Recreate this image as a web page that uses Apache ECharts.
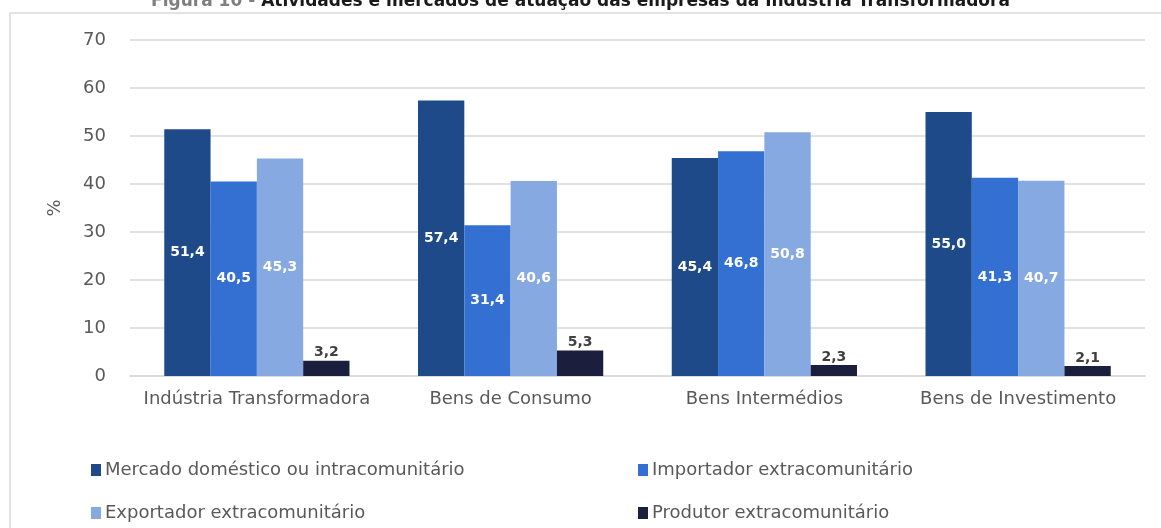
<!DOCTYPE html>
<html>
<head>
<meta charset="utf-8">
<title>Figura 10</title>
<script src="https://cdn.jsdelivr.net/npm/echarts@6/dist/echarts.min.js"></script>
<style>
  html, body { margin: 0; padding: 0; background: #fff; }
  #chart { width: 1161px; height: 528px; }
</style>
</head>
<body>
<div id="chart"></div>
<script>
// categorias e valores (%)
var categorias = ['Indústria Transformadora', 'Bens de Consumo', 'Bens Intermédios', 'Bens de Investimento'];
var seriesNomes = ['Mercado doméstico ou intracomunitário', 'Importador extracomunitário',
                   'Exportador extracomunitário', 'Produtor extracomunitário'];
var mercadoDomestico = [51.4, 57.4, 45.4, 55.0];
var importador = [40.5, 31.4, 46.8, 41.3];
var exportador = [45.3, 40.6, 50.8, 40.7];
var produtor = [3.2, 5.3, 2.3, 2.1];
var cores = ['#1F4A89', '#3370D1', '#86A9E1', '#1C1E3E'];

var fonte = '"DejaVu Sans", sans-serif';
var fmt = function (p) { return p.value.toFixed(1).replace('.', ','); };

function serie(i, dados, dentro) {
    return {
        name: seriesNomes[i],
        type: 'bar',
        data: dados,
        barGap: '0%',
        barCategoryGap: '27%',
        itemStyle: { color: cores[i] },
        label: {
            show: true,
            position: dentro ? 'inside' : 'top',
            distance: 1,
            formatter: fmt,
            color: dentro ? '#ffffff' : '#404040',
            fontWeight: 'bold',
            fontSize: 14,
            fontFamily: fonte
        }
    };
}

function legenda(i, x, y) {
    return {
        left: x, top: y,
        data: [seriesNomes[i]],
        itemWidth: 10, itemHeight: 12, itemGap: 0,
        icon: 'rect',
        textStyle: { color: '#595959', fontSize: 18, fontFamily: fonte, padding: [0, 0, 0, -1] }
    };
}

var chart = echarts.init(document.getElementById('chart'));
chart.setOption({
    animation: false,
    title: {
        text: '{a|Figura 10 - }{b|Atividades e mercados de atuação das empresas da Indústria Transformadora}',
        left: 'center', top: -12,
        textStyle: {
            rich: {
                a: { fontSize: 17, color: '#7f7f7f', fontFamily: fonte, fontWeight: 'bold' },
                b: { fontSize: 17, color: '#1a1a1a', fontFamily: fonte, fontWeight: 'bold' }
            }
        }
    },
    graphic: [{
        type: 'rect',
        shape: { x: 10, y: 13, width: 1200, height: 600 },
        style: { fill: 'none', stroke: '#d9d9d9', lineWidth: 1.5 },
        silent: true, z: -1
    }],
    grid: { left: 130, right: 16, top: 40, bottom: 152 },
    legend: [
        legenda(0, 86, 456),
        legenda(1, 633, 456),
        legenda(2, 86, 499),
        legenda(3, 633, 499)
    ],
    xAxis: {
        type: 'category',
        data: categorias,
        axisTick: { show: false },
        axisLine: { lineStyle: { color: '#d9d9d9', width: 1.5 } },
        axisLabel: { color: '#595959', fontSize: 18, fontFamily: fonte, margin: 14, interval: 0 }
    },
    yAxis: {
        type: 'value',
        min: 0, max: 70, interval: 10,
        name: '%',
        nameLocation: 'middle',
        nameGap: 66,
        nameRotate: 90,
        nameTextStyle: { color: '#595959', fontSize: 18, fontFamily: fonte },
        axisLabel: { color: '#595959', fontSize: 18, fontFamily: fonte, margin: 24 },
        splitLine: { lineStyle: { color: '#d9d9d9', width: 1.5 } }
    },
    series: [
        serie(0, mercadoDomestico, true),
        serie(1, importador, true),
        serie(2, exportador, true),
        serie(3, produtor, false)
    ]
});
</script>
</body>
</html>
